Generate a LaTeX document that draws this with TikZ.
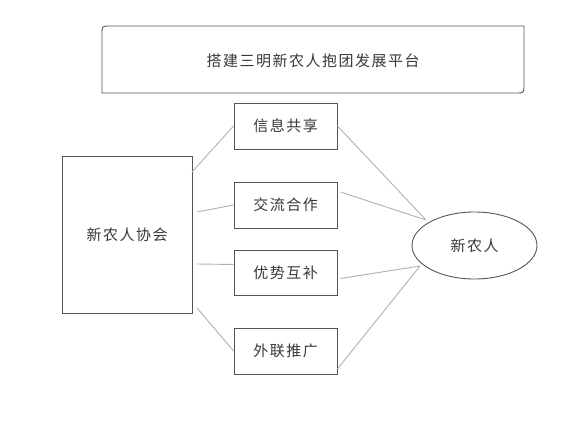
\documentclass[tikz,border=0pt]{standalone}
\usepackage{fontspec}
\setmainfont[LetterSpace=10]{Noto Sans CJK SC}
\usetikzlibrary{shapes.geometric}
\definecolor{edge}{HTML}{555555}
\definecolor{txt}{HTML}{383838}
\definecolor{conn}{HTML}{B0B0B0}
\begin{document}
\begin{tikzpicture}[x=1pt,y=-1pt,
  every node/.style={font=\fontsize{15}{17}\selectfont, text=txt},
  boxstyle/.style={draw=edge, line width=0.9pt, inner sep=0pt},
  connector/.style={draw=conn, line width=0.9pt}]
\useasboundingbox (0,0) rectangle (579,433);
% top box with two rounded corners
\draw[edge, line width=0.9pt]
  (102,34) .. controls (102,26) .. (110,26) -- (524,26) -- (524,85)
  .. controls (524,93) .. (516,93) -- (102,93) -- cycle;
\node (top) at (313,61) {搭建三明新农人抱团发展平台};
% left box
\node[boxstyle, minimum width=130pt, minimum height=157pt] (assoc) at (127,234.5) {新农人协会};
% middle boxes
\node[boxstyle, minimum width=103pt, minimum height=46pt] (m1) at (285.5,126) {信息共享};
\node[boxstyle, minimum width=103pt, minimum height=46pt] (m2) at (285.5,205) {交流合作};
\node[boxstyle, minimum width=103pt, minimum height=45pt] (m3) at (285.5,272.5) {优势互补};
\node[boxstyle, minimum width=103pt, minimum height=46pt] (m4) at (285.5,351) {外联推广};
% ellipse
\node[draw=edge, line width=0.9pt, ellipse, minimum width=125pt, minimum height=67pt, inner sep=0pt] (farm) at (474.5,245.5) {新农人};
% anchor coordinates
\coordinate (a1) at (192,172);
\coordinate (a2) at (197,212);
\coordinate (a3) at (197,264);
\coordinate (a4) at (197,308);
\coordinate (e1) at (426,220);
\coordinate (e2) at (420,266);
% connectors left
\draw[connector] (a1) -- (m1.west);
\draw[connector] (a2) -- (m2.west);
\draw[connector] (a3) -- ([yshift=8]m3.west);
\draw[connector] (a4) -- (m4.west);
% connectors right
\draw[connector] (m1.east) -- (e1);
\draw[connector] ([xshift=3,yshift=13]m2.east) -- (e1);
\draw[connector] ([xshift=3,yshift=-6]m3.east) -- (e2);
\draw[connector] ([yshift=-18]m4.east) -- (e2);
\end{tikzpicture}
\end{document}
